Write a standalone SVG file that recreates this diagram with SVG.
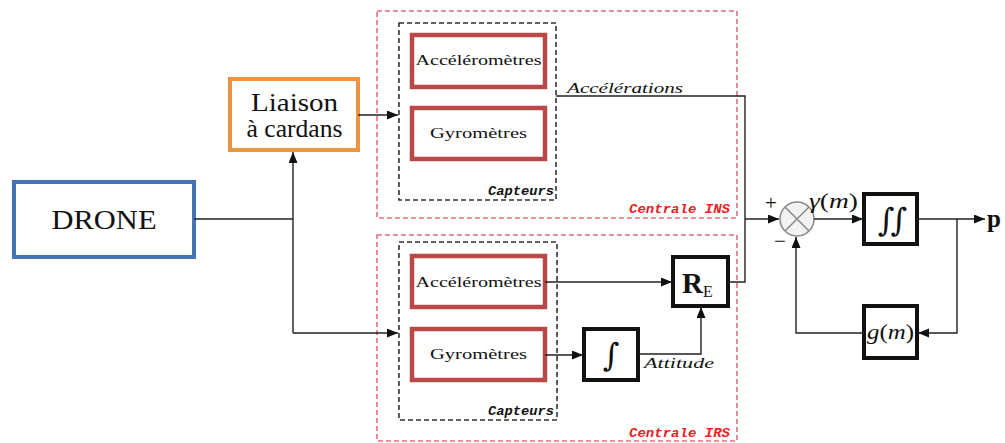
<svg xmlns="http://www.w3.org/2000/svg" width="1005" height="443" viewBox="0 0 1005 443">
<style>
.serif{font-family:"Liberation Serif","DejaVu Serif",serif;fill:#111}
.mono{font-family:"Liberation Mono","DejaVu Sans Mono",monospace;font-style:italic;font-weight:bold}
.sensor{fill:#fff;stroke:#b94848;stroke-width:4.5}
.blk{fill:#fff;stroke:#111;stroke-width:4}
.zone{fill:none;stroke:#e0707e;stroke-width:1.6;stroke-dasharray:5 3}
.capt{fill:none;stroke:#333;stroke-width:1.6;stroke-dasharray:5 3}
.ln{fill:none;stroke:#222;stroke-width:1.4}
.arr{marker-end:url(#ah)}
.intg{font-family:"DejaVu Serif","Liberation Serif",serif;fill:#111;font-weight:normal}
</style>
<defs>
<marker id="ah" markerUnits="userSpaceOnUse" markerWidth="12" markerHeight="10" refX="11" refY="4.5" orient="auto">
<path d="M0,0 L11,4.5 L0,9 z" fill="#111"/>
</marker>
</defs>
<rect width="1005" height="443" fill="#fff"/>

<g id="centrale-ins">
<rect class="zone" x="377" y="11" width="360" height="207"/>
<text class="mono" x="730" y="213" text-anchor="end" font-size="13" fill="#ee1c24" textLength="101" lengthAdjust="spacingAndGlyphs">Centrale INS</text>
</g>
<g id="centrale-irs">
<rect class="zone" x="377" y="235" width="360" height="206"/>
<text class="mono" x="730" y="437" text-anchor="end" font-size="13" fill="#ee1c24" textLength="101" lengthAdjust="spacingAndGlyphs">Centrale IRS</text>
</g>
<g id="capteurs-ins">
<rect class="capt" x="399" y="23" width="157" height="177"/>
<text class="mono" x="554" y="195" text-anchor="end" font-size="12" fill="#111" textLength="66" lengthAdjust="spacingAndGlyphs">Capteurs</text>
</g>
<g id="capteurs-irs">
<rect class="capt" x="399" y="242" width="158" height="178"/>
<text class="mono" x="554" y="415" text-anchor="end" font-size="12" fill="#111" textLength="66" lengthAdjust="spacingAndGlyphs">Capteurs</text>
</g>

<g id="drone">
<rect x="14" y="182" width="180" height="75" fill="#fff" stroke="#4674b6" stroke-width="4"/>
<text class="serif" x="104" y="229" text-anchor="middle" font-size="27" textLength="105" lengthAdjust="spacingAndGlyphs">DRONE</text>
</g>
<g id="liaison">
<rect x="230" y="79" width="128" height="71" fill="#fff" stroke="#ec9440" stroke-width="4"/>
<text class="serif" x="294.500" y="111" text-anchor="middle" font-size="25" textLength="87" lengthAdjust="spacingAndGlyphs">Liaison</text>
<text class="serif" x="294.500" y="137" text-anchor="middle" font-size="25" textLength="96" lengthAdjust="spacingAndGlyphs">à cardans</text>
</g>

<g id="acc-ins">
<rect class="sensor" x="412" y="35" width="133" height="52"/>
<text class="serif" x="478.500" y="65" text-anchor="middle" font-size="15" textLength="126" lengthAdjust="spacingAndGlyphs">Accéléromètres</text>
</g>
<g id="gyro-ins">
<rect class="sensor" x="412" y="108" width="133" height="51"/>
<text class="serif" x="478.500" y="138" text-anchor="middle" font-size="15" textLength="97" lengthAdjust="spacingAndGlyphs">Gyromètres</text>
</g>
<g id="acc-irs">
<rect class="sensor" x="412" y="256" width="133" height="51"/>
<text class="serif" x="478.500" y="287" text-anchor="middle" font-size="15" textLength="126" lengthAdjust="spacingAndGlyphs">Accéléromètres</text>
</g>
<g id="gyro-irs">
<rect class="sensor" x="412" y="329" width="133" height="51"/>
<text class="serif" x="478.500" y="359" text-anchor="middle" font-size="15" textLength="97" lengthAdjust="spacingAndGlyphs">Gyromètres</text>
</g>

<g id="re">
<rect class="blk" x="673" y="257" width="55" height="49"/>
<text class="serif" x="682" y="293" font-size="29" font-weight="bold">R<tspan font-size="16" font-weight="normal" dy="4">E</tspan></text>
</g>
<g id="integ">
<rect class="blk" x="584" y="329" width="54" height="51"/>
<text class="intg" x="611" y="366" text-anchor="middle" font-size="32">∫</text>
</g>
<g id="sum">
<circle cx="797" cy="219" r="17" fill="#f2f2f2" stroke="#888" stroke-width="1.5"/>
<path d="M785,207 L809,231 M809,207 L785,231" stroke="#888" stroke-width="1.5"/>
<text class="serif" x="771" y="210" text-anchor="middle" font-size="21">+</text>
<text class="serif" x="780" y="248" text-anchor="middle" font-size="21">−</text>
</g>
<g id="dinteg">
<rect class="blk" x="864" y="194" width="53" height="50"/>
<text class="intg" x="890.500" y="231" text-anchor="middle" font-size="32" letter-spacing="-4">∫∫</text>
</g>
<g id="gm">
<rect class="blk" x="864" y="306" width="53" height="52"/>
<text class="serif" x="890.500" y="339" text-anchor="middle" font-size="20" font-style="italic" textLength="47" lengthAdjust="spacingAndGlyphs">g<tspan font-style="normal">(</tspan>m<tspan font-style="normal">)</tspan></text>
</g>

<g id="connectors">
<path class="ln" d="M194,219 H293"/>
<path class="ln arr" d="M293,333 V152"/>
<path class="ln arr" d="M293,333 H398"/>
<path class="ln arr" d="M358,115 H398"/>
<path class="ln" d="M556,96 H745 V282 H728"/>
<path class="ln arr" d="M745,219 H779"/>
<path class="ln arr" d="M545,282 H672"/>
<path class="ln arr" d="M545,355 H583"/>
<path class="ln arr" d="M638,354 H701 V307"/>
<path class="ln arr" d="M814,219 H863"/>
<path class="ln arr" d="M917,219 H985"/>
<path class="ln arr" d="M957,219 V333 H918"/>
<path class="ln arr" d="M864,333 H796 V237"/>
<text class="serif" x="567" y="93" font-size="14" font-style="italic" textLength="116" lengthAdjust="spacingAndGlyphs">Accélérations</text>
<text class="serif" x="644" y="368" font-size="14" font-style="italic" textLength="70" lengthAdjust="spacingAndGlyphs">Attitude</text>
<text class="serif" x="809" y="208" font-size="20" font-style="italic" textLength="49" lengthAdjust="spacingAndGlyphs">γ<tspan font-style="normal">(</tspan>m<tspan font-style="normal">)</tspan></text>
<text class="serif" x="987" y="227" font-size="25" font-weight="bold">p</text>
</g>
</svg>
